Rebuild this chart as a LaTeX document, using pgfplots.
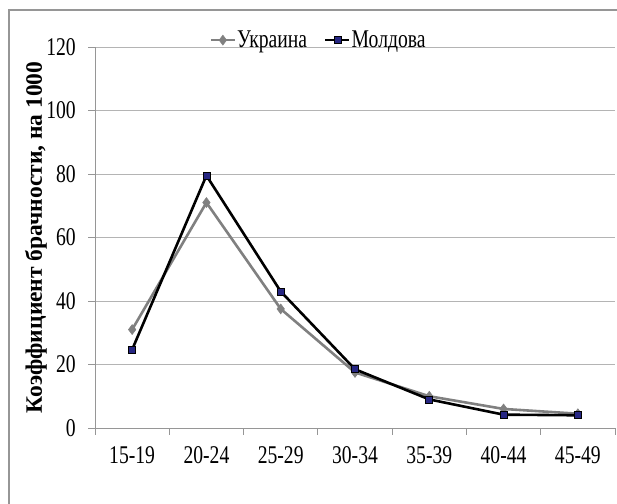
\documentclass[border=0pt]{standalone}
\usepackage{fontspec}
\setmainfont[FakeStretch=0.77]{Liberation Serif}
\newfontfamily\labelfont{Liberation Serif}
\usepackage{pgfplots}
\pgfplotsset{compat=1.18}
\definecolor{ukr}{RGB}{128,128,128}
\definecolor{mdfill}{RGB}{38,38,130}
\definecolor{gridc}{RGB}{180,180,180}
\definecolor{axc}{RGB}{150,150,150}
\begin{document}
\begin{tikzpicture}[x=1bp,y=1bp]
\useasboundingbox (0,0) rectangle (617,504);
\draw[color=axc,line width=1.2bp] (9,494) rectangle (640,-20);
\begin{axis}[
  at={(95bp,76bp)}, anchor=south west,
  scale only axis, width=520bp, height=381bp,
  xmin=-0.5, xmax=6.5, ymin=0, ymax=120,
  xtick={0,...,6},
  xticklabels={15-19,20-24,25-29,30-34,35-39,40-44,45-49},
  major x tick style={draw=none},
  extra x ticks={-0.5,0.5,1.5,2.5,3.5,4.5,5.5,6.5},
  extra x tick labels={},
  extra x tick style={major tick length=7bp, tick align=outside, major x tick style={draw=axc,line width=0.8bp}, grid=none},
  ytick={0,20,...,120},
  ymajorgrids,
  grid style={gridc, line width=0.8bp},
  tick align=outside,
  major tick length=7bp,
  ytick style={axc, line width=0.8bp},
  axis x line*=bottom, axis y line*=left,
  axis line style={axc, line width=0.8bp, -},
  /pgf/number format/assume math mode=true,
  tick label style={font=\fontsize{25.5bp}{29bp}\selectfont},
  xticklabel style={inner sep=0pt, anchor=north, yshift=-11bp},
  yticklabel style={inner sep=0pt, anchor=east, xshift=-12bp},
  ylabel={Коэффициент брачности, на 1000},
  ylabel style={at={(axis description cs:-0.102,0.5)}, anchor=base, font=\labelfont\bfseries\fontsize{23.5bp}{28bp}\selectfont},
  legend columns=2,
  legend style={draw=none, fill=none, at={(axis description cs:0.429,1.018)}, anchor=center,
    font=\fontsize{25.5bp}{29bp}\selectfont, inner sep=0pt,
    nodes={inner sep=1bp},
    /tikz/every even column/.append style={column sep=16bp}},
  legend image code/.code={\draw[mark repeat=2,mark phase=2] plot coordinates {(0bp,0bp) (12bp,0bp) (24bp,0bp)};},
  clip=false,
]
\addplot[color=ukr, line width=2.6bp, mark=diamond*, mark size=5bp, mark options={fill=ukr, draw=ukr, line width=0.5bp}]
  coordinates {(0,31) (1,71) (2,37.5) (3,17.5) (4,10) (5,6) (6,4.5)};
\addlegendentry{Украина}
\addplot[color=black, line width=2.6bp, mark=square*, mark size=3.5bp, mark options={fill=mdfill, draw=black, line width=0.8bp}]
  coordinates {(0,24.7) (1,79.5) (2,43) (3,18.5) (4,9) (5,4.2) (6,4)};
\addlegendentry{Молдова}
\end{axis}
\end{tikzpicture}
\end{document}
